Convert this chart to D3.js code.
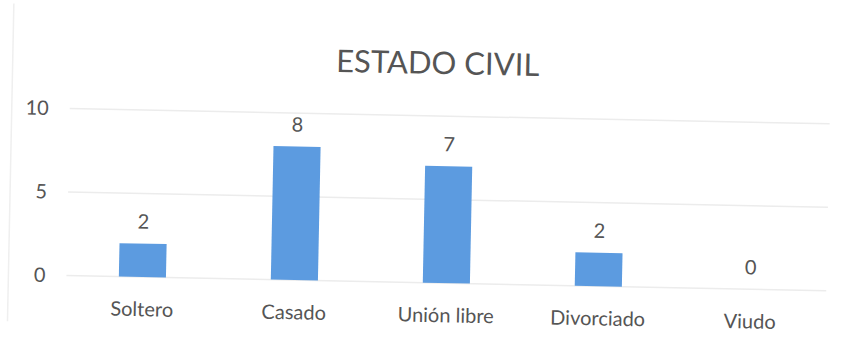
<!DOCTYPE html>
<html>
<head>
<meta charset="utf-8">
<script src="https://cdn.jsdelivr.net/npm/d3@7/dist/d3.min.js"></script>
<style>
  html, body { margin: 0; padding: 0; background: #ffffff; }
  svg { display: block; }
  text { font-family: "Lato", "Open Sans", sans-serif; fill: #555555; }
</style>
</head>
<body>
<svg id="chart" width="849" height="345"></svg>
<script>
const title = "ESTADO CIVIL";
const categories = ["Soltero", "Casado", "Unión libre", "Divorciado", "Viudo"];
const values = [2, 8, 7, 2, 0];
const yTicks = [0, 5, 10];

const W = 849, H = 345;
const svg = d3.select("#chart");
svg.append("rect").attr("width", W).attr("height", H).attr("fill", "#ffffff");

// whole scanned page is slightly tilted
const g = svg.append("g").attr("transform", "rotate(1.15, 440, 200)");

// faint chart border (left edge visible in scan)
g.append("line").attr("x1", 10).attr("x2", 10).attr("y1", 12).attr("y2", 330)
  .attr("stroke", "#efefef").attr("stroke-width", 1.5);

const x = d3.scaleBand().domain(categories).range([68, 828])
  .paddingInner(0.69).paddingOuter(0.345);
const y = d3.scaleLinear().domain([0, 10]).range([283, 116]);

// gridlines
g.append("g").selectAll("line").data(yTicks).join("line")
  .attr("x1", 68).attr("x2", 828)
  .attr("y1", d => y(d)).attr("y2", d => y(d))
  .attr("stroke", "#ececec").attr("stroke-width", 1.5);

// y axis labels
const yAxis = d3.axisLeft(y).tickValues(yTicks).tickSize(0).tickPadding(0);
const ya = g.append("g").attr("transform", "translate(47,0)").call(yAxis);
ya.select(".domain").remove();
ya.selectAll("text").style("font-size", "20px").attr("fill", "#555555")
  .style("font-family", "Lato, 'Open Sans', sans-serif");

// bars
g.append("g").selectAll("rect").data(values).join("rect")
  .attr("x", (d, i) => x(categories[i]))
  .attr("width", x.bandwidth())
  .attr("y", d => y(d))
  .attr("height", d => y(0) - y(d))
  .attr("fill", "#5c9be0");

// value labels
g.append("g").selectAll("text").data(values).join("text")
  .attr("x", (d, i) => x(categories[i]) + x.bandwidth() / 2)
  .attr("y", d => y(d) - 15)
  .attr("text-anchor", "middle")
  .style("font-size", "20px")
  .text(d => d);

// category labels
const xAxis = d3.axisBottom(x).tickSize(0).tickPadding(0);
const xa = g.append("g").attr("transform", "translate(0,308)").call(xAxis);
xa.select(".domain").remove();
xa.selectAll("text").style("font-size", "20px").attr("fill", "#555555")
  .style("font-family", "Lato, 'Open Sans', sans-serif");

// title
g.append("text").attr("x", 435).attr("y", 74).attr("text-anchor", "middle")
  .style("font-size", "31px").attr("fill", "#404040").text(title);
</script>
</body>
</html>
